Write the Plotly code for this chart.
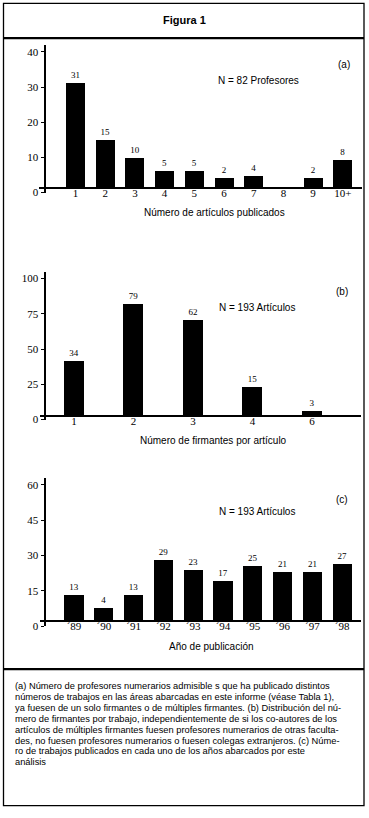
import plotly.graph_objects as go

# ---------------- data ----------------
a_categories = ["1", "2", "3", "4", "5", "6", "7", "8", "9", "10+"]
a_bar_tops = [31.1, 15.0, 9.9, 6.0, 6.0, 4.2, 4.6, 0.0, 4.2, 9.3]
a_labels = ["31", "15", "10", "5", "5", "2", "4", "", "2", "8"]
a_ticks = [0, 10, 20, 30, 40]

b_categories = ["1", "2", "3", "4", "6"]
b_bar_tops = [41.3, 82.2, 70.9, 23.0, 6.3]
b_labels = ["34", "79", "62", "15", "3"]
b_ticks = [0, 25, 50, 75, 100]

c_categories = ["´89", "´90", "´91", "´92", "´93", "´94", "´95", "´96", "´97", "´98"]
c_bar_tops = [13.4, 7.6, 13.4, 28.1, 23.9, 19.3, 25.6, 22.8, 22.8, 26.4]
c_labels = ["13", "4", "13", "29", "23", "17", "25", "21", "21", "27"]
c_ticks = [0, 15, 30, 45, 60]

caption_lines = [
    "(a) Número de profesores numerarios admisible s que ha publicado distintos",
    "números de trabajos en las áreas abarcadas en este informe (véase Tabla 1),",
    "ya fuesen de un solo firmantes o de múltiples firmantes. (b) Distribución del nú-",
    "mero de firmantes por trabajo, independientemente de si los co-autores de los",
    "artículos de múltiples firmantes fuesen profesores numerarios de otras faculta-",
    "des, no fuesen profesores numerarios o fuesen colegas extranjeros. (c) Núme-",
    "ro de trabajos publicados en cada uno de los años abarcados por este",
    "análisis",
]

# ---------------- layout helpers ----------------
W, H = 369, 818
SERIF = "Liberation Serif"
SANS = "Liberation Sans"


def px(p):
    return p / W


def py(p):
    return 1 - p / H


fig = go.Figure()

panels = [
    dict(cats=a_categories, tops=a_bar_tops, labels=a_labels, ticks=a_ticks, base=1.4, w=0.64,
         xr=[-1.219, 9.636], xd=[39.3, 361.7], xl=189.0, yr=[0, 42], y0=194.0, y1=45.3, yx=44.5),
    dict(cats=b_categories, tops=b_bar_tops, labels=b_labels, ticks=b_ticks, base=2.8, w=0.336,
         xr=[-0.571, 4.824], xd=[40, 361], xl=418.7, yr=[0, 104.5], y0=422.7, y1=274.3, yx=44.5),
    dict(cats=c_categories, tops=c_bar_tops, labels=c_labels, ticks=c_ticks, base=2.27, w=0.65,
         xr=[-1.141, 9.631], xd=[40, 361], xl=625.3, yr=[0, 62.8], y0=630.7, y1=481.7, yx=44.5),
]

layout_axes = {}
for k, p in enumerate(panels, start=1):
    sfx = "" if k == 1 else str(k)
    heights = [max(t - p["base"], 0) for t in p["tops"]]
    fig.add_trace(go.Bar(
        x=p["cats"], y=heights, base=p["base"], width=p["w"],
        marker=dict(color="black", line=dict(width=0)),
        text=p["labels"], textposition="outside", textangle=0, constraintext="none",
        textfont=dict(family=SERIF, size=9, color="black"),
        cliponaxis=False, showlegend=False, hoverinfo="skip",
        xaxis="x" + sfx, yaxis="y" + sfx,
    ))
    layout_axes["xaxis" + sfx] = dict(
        type="category", domain=[px(p["xd"][0]), px(p["xd"][1])], range=p["xr"],
        anchor="free", position=py(p["xl"]), showline=True, linecolor="black", linewidth=2,
        ticks="", showgrid=False, zeroline=False, fixedrange=True, ticklabelstandoff=-5,
        tickfont=dict(family=SERIF, size=11, color="black"),
    )
    layout_axes["yaxis" + sfx] = dict(
        domain=[py(p["y0"]), py(p["y1"])], range=p["yr"], anchor="free", position=px(p["yx"]),
        showline=True, linecolor="black", linewidth=2, ticks="outside", ticklen=3, tickwidth=1,
        tickcolor="black", tickvals=p["ticks"], showgrid=False, zeroline=False, fixedrange=True,
        tickfont=dict(family=SERIF, size=11, color="black"),
    )

annotations = []


def note(text, x, y, size=10, xanchor="center", family=SANS):
    annotations.append(dict(text=text, x=px(x), y=py(y), xref="paper", yref="paper",
                            showarrow=False, xanchor=xanchor, yanchor="middle",
                            font=dict(family=family, size=size, color="black")))


note("<b>Figura 1</b>", 184.5, 20.5, size=11)
note("Número de artículos publicados", 214.5, 214)
note("N = 82 Profesores", 258.5, 81)
note("(a)", 344, 65)
note("Número de firmantes por artículo", 213, 443.5)
note("N = 193 Artículos", 257, 310)
note("(b)", 342, 294)
note("Año de publicación", 211, 651)
note("N = 193 Artículos", 257, 515)
note("(c)", 342, 503)

cap_y = [691.5, 702.4, 713.3, 724.2, 735.1, 746.0, 756.9, 767.8]
for line, yy in zip(caption_lines, cap_y):
    note(line, 12.5, yy, size=9.3, xanchor="left")

shapes = [
    dict(type="rect", xref="paper", yref="paper", x0=px(3.5), x1=px(364), y0=py(811.5), y1=py(3.5),
         line=dict(color="black", width=1.3)),
    dict(type="line", xref="paper", yref="paper", x0=px(3.5), x1=px(364), y0=py(38.5), y1=py(38.5),
         line=dict(color="black", width=2.2)),
    dict(type="line", xref="paper", yref="paper", x0=px(3.5), x1=px(364), y0=py(674), y1=py(674),
         line=dict(color="black", width=2.2)),
]

fig.update_layout(
    width=W, height=H, margin=dict(l=0, r=0, t=0, b=0),
    paper_bgcolor="white", plot_bgcolor="white",
    annotations=annotations, shapes=shapes, bargap=0,
    **layout_axes,
)

fig.write_html(
    "out.html",
    config={"displayModeBar": False, "staticPlot": True},
    post_script="document.body.style.margin='0';document.body.style.overflow='hidden';",
)
